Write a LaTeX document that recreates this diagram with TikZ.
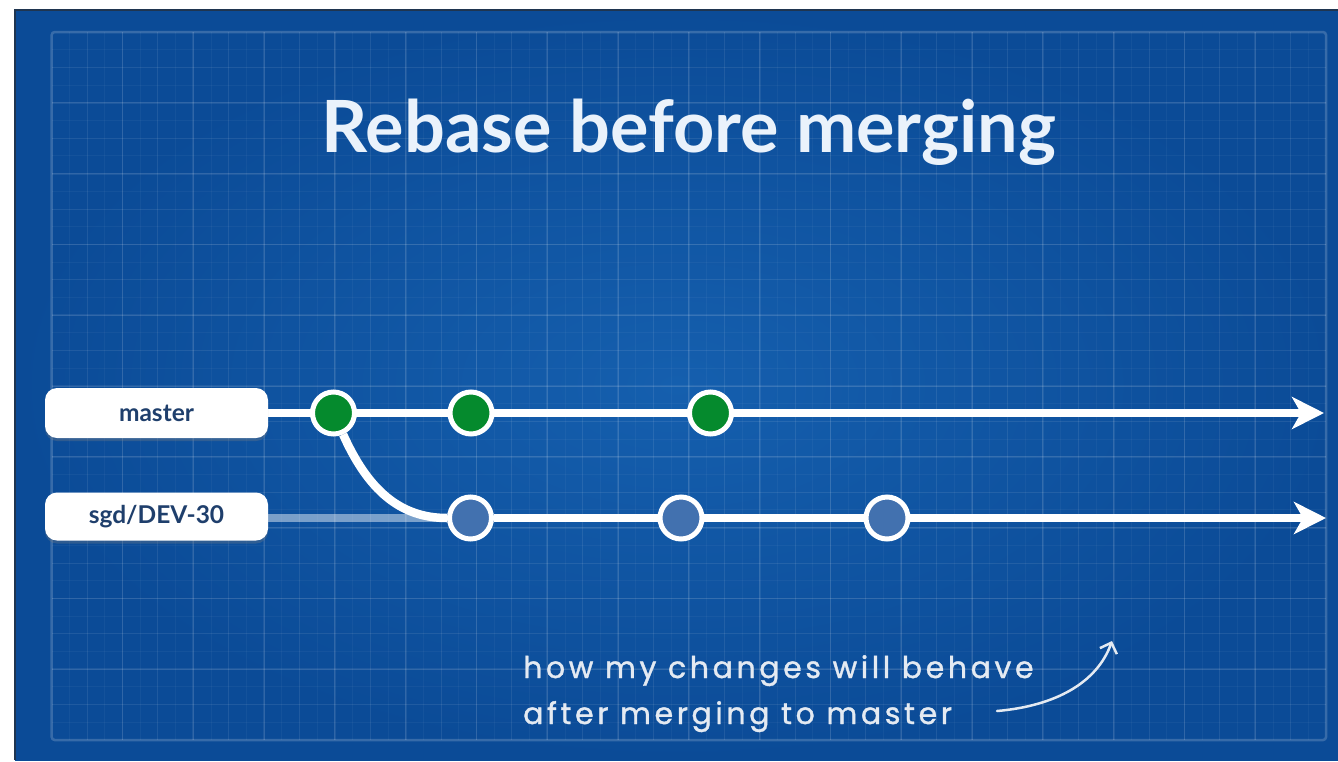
\documentclass[tikz,border=0pt]{standalone}
\usepackage{fontspec}
\setmainfont{Lato}
\newfontfamily\handfont{Poppins}[LetterSpace=12,FakeBold=1.2]
\usetikzlibrary{arrows.meta,shadows}
\pgfdeclarelayer{bg}
\pgfdeclarelayer{wires}
\pgfsetlayers{bg,wires,main}
\definecolor{bgcenter}{HTML}{155FAE}
\definecolor{bgedge}{HTML}{0B4B97}
\definecolor{rim}{HTML}{1F3550}
\definecolor{titletext}{HTML}{EAF2FB}
\definecolor{tagtext}{HTML}{1F3F6C}
\definecolor{commitgreen}{HTML}{058A2D}
\definecolor{commitblue}{HTML}{4271AF}
\definecolor{chalk}{HTML}{E4EAF2}
\begin{document}
\begin{tikzpicture}[x=1pt,y=-1pt,
  commit/.style={circle,inner sep=0pt,minimum size=42pt,line width=5pt,draw=white},
  mastercommit/.style={commit,fill=commitgreen},
  devcommit/.style={commit,fill=commitblue},
  branchtag/.style={rounded corners=12pt,fill=white,minimum width=223pt,inner sep=0pt,
    font=\bfseries\fontsize{24.5}{29}\selectfont,text=tagtext,
    drop shadow={shadow xshift=0pt,shadow yshift=-3pt,opacity=.3}},
  track/.style={white,line width=8.5pt},
  tip/.style={-{Stealth[length=32pt,width=32pt,inset=9pt]}},
  gridline/.style={white,line width=1pt},
  chalkline/.style={anchor=base west,font=\handfont\fontsize{30}{36}\selectfont,text=chalk,inner sep=0pt}]
\useasboundingbox (0,0) rectangle (1338,761);

% blueprint background with its grid
\begin{pgfonlayer}{bg}
  \fill[white] (0,0) rectangle (1338,761);
  \shade[inner color=bgcenter,outer color=bgedge] (15,10) rectangle (1338,760);
  \draw[rim,line width=1.5pt] (15,760) -- (15,10) -- (1338,10);
  \begin{scope}
    \clip (51.7,32) rectangle (1326,740);
    \foreach \k in {1,...,71}
      \draw[gridline,opacity=.04] ({51.7+\k*17.7},32) -- ++(0,708);
    \foreach \k in {1,...,39}
      \draw[gridline,opacity=.04] (51.7,{32+\k*17.7}) -- ++(1275,0);
    \foreach \k in {1,...,35}
      \draw[gridline,opacity=.05] ({51.7+\k*35.4},32) -- ++(0,708);
    \foreach \k in {1,...,19}
      \draw[gridline,opacity=.05] (51.7,{32+\k*35.4}) -- ++(1275,0);
    \foreach \k in {1,...,17}
      \draw[gridline,opacity=.08,line width=1.8pt] ({51.7+\k*70.8},32) -- ++(0,708);
    \foreach \k in {1,...,9}
      \draw[gridline,opacity=.08,line width=1.8pt] (51.7,{32+\k*70.8}) -- ++(1275,0);
  \end{scope}
  \draw[white,opacity=.18,line width=2.5pt,rounded corners=3pt] (51.7,32) rectangle (1326,740);
\end{pgfonlayer}

% title
\node[font=\bfseries\fontsize{72}{80}\selectfont,text=titletext,anchor=base] (title) at (689,152) {Rebase before merging};

% branch labels
\node[branchtag,minimum height=50pt] (master) at (156.5,413) {master};
\node[branchtag,minimum height=48pt] (dev) at (156.5,516.5) {sgd/DEV-30};

% commits
\node[mastercommit] (m1) at (333.5,413) {};
\node[mastercommit] (m2) at (471,413) {};
\node[mastercommit] (m3) at (710.5,413) {};
\node[devcommit] (d1) at (470.5,518) {};
\node[devcommit] (d2) at (681,518) {};
\node[devcommit] (d3) at (887,518) {};

\coordinate (mend) at (1324,413);
\coordinate (dend) at (1326,518);

% branch lines
\begin{pgfonlayer}{wires}
  \draw[track,tip] (master.east) -- (mend);
  \draw[track,opacity=.45] (dev.east |- d1) -- (d1);
  \draw[track,tip] (d1) -- (dend);
  \draw[track] (m1) .. controls (368,490) and (400,518) .. (d1);
\end{pgfonlayer}

% handwritten note
\node[chalkline] (note1) at (523,678) {how my changes will behave};
\node[chalkline] (note2) at (523,724) {after merging to master};
\coordinate (ctail) at (997,711);
\coordinate (chead) at (1112,641);
\draw[chalk,line width=2.5pt,line cap=round,-{Straight Barb[length=9pt,width=18pt]}] (ctail) .. controls (1055,706) and (1097,683) .. (chead);
\end{tikzpicture}
\end{document}
